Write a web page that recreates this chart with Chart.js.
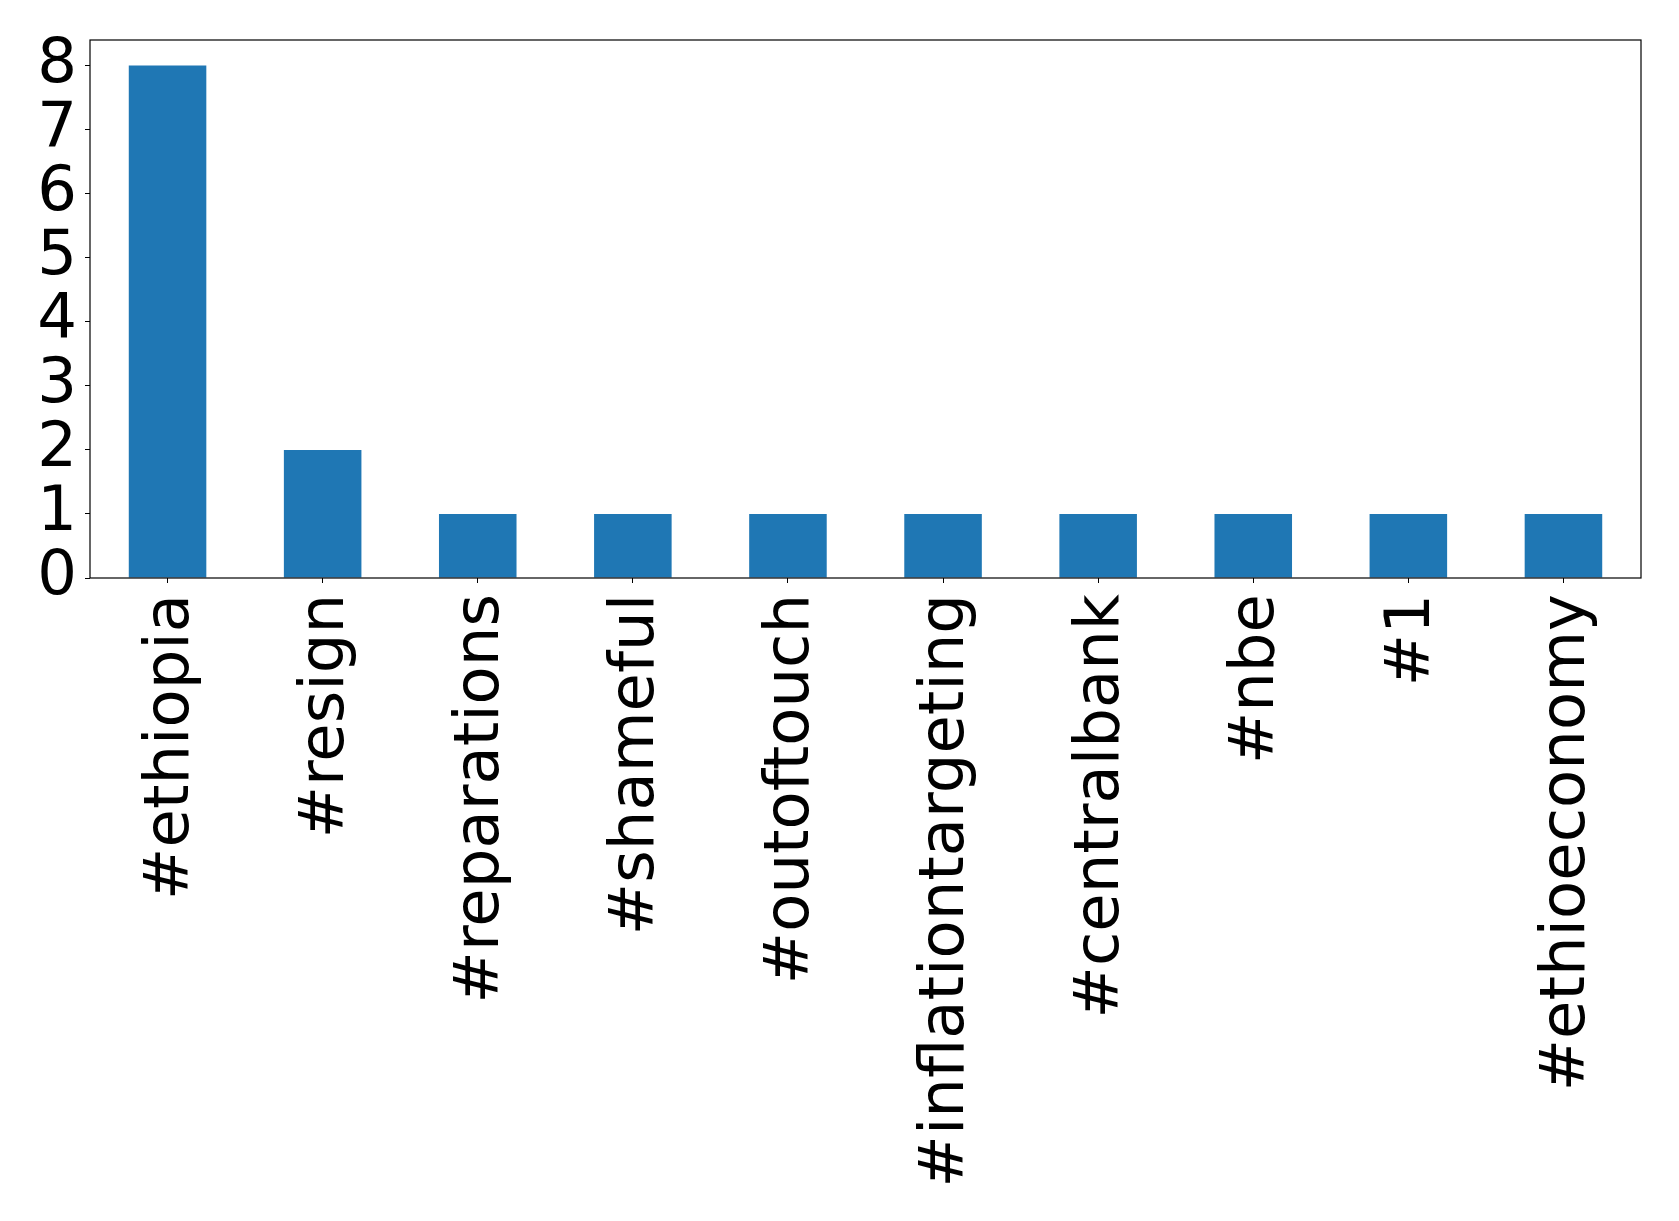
<!DOCTYPE html>
<html>
<head>
<meta charset="utf-8">
<script src="https://cdn.jsdelivr.net/npm/chart.js@4.4.0/dist/chart.umd.min.js"></script>
<style>
  html, body { margin: 0; padding: 0; background: #fff; }
  #wrap { width: 1679px; height: 1221px; }
</style>
</head>
<body>
<div id="wrap"><canvas id="grafico" width="1679" height="1221"></canvas></div>
<script>
// hashtags e contagens
const hashtags = ['#ethiopia', '#resign', '#reparations', '#shameful', '#outoftouch',
    '#inflationtargeting', '#centralbank', '#nbe', '#1', '#ethioeconomy'];
const contagens = [8, 2, 1, 1, 1, 1, 1, 1, 1, 1];
const yTicks = [0, 1, 2, 3, 4, 5, 6, 7, 8];
const yMax = 8.4;

// moldura em volta da area do grafico
const moldura = {
    id: 'moldura',
    afterDraw(chart) {
        const a = chart.chartArea;
        const ctx = chart.ctx;
        ctx.save();
        ctx.strokeStyle = '#000';
        ctx.lineWidth = 1.2;
        ctx.strokeRect(a.left, a.top, a.right - a.left, a.bottom - a.top);
        ctx.restore();
    }
};

const fonte = { family: 'DejaVu Sans', size: 62.5 };

const ctx = document.getElementById('grafico').getContext('2d');
const grafico = new Chart(ctx, {
    type: 'bar',
    data: {
        labels: hashtags,
        datasets: [{
            data: contagens,
            backgroundColor: '#1f77b4',
            borderWidth: 0,
            categoryPercentage: 1.0,
            barPercentage: 0.5
        }]
    },
    options: {
        responsive: false,
        animation: false,
        layout: { autoPadding: false, padding: { top: 40, right: 38, left: 0, bottom: 0 } },
        plugins: { legend: { display: false }, tooltip: { enabled: false } },
        scales: {
            x: {
                grid: { drawOnChartArea: false, drawTicks: true, tickLength: 5, color: '#000', offset: false },
                border: { display: false },
                ticks: {
                    color: '#000',
                    font: fonte,
                    minRotation: 90,
                    maxRotation: 90,
                    autoSkip: false,
                    padding: 11,
                    labelOffset: 4
                },
                afterFit(scale) {
                    scale.height = 1221 - 578;
                    scale.paddingLeft = 0;
                    scale.paddingRight = 0;
                }
            },
            y: {
                min: 0,
                max: yMax,
                grid: { drawOnChartArea: false, drawTicks: true, tickLength: 5, color: '#000' },
                border: { display: false },
                ticks: {
                    color: '#000',
                    font: fonte,
                    autoSkip: false,
                    padding: 8
                },
                afterBuildTicks(scale) {
                    scale.ticks = yTicks.map(v => ({ value: v }));
                },
                afterFit(scale) {
                    scale.width = 90;
                    scale.paddingTop = 0;
                    scale.paddingBottom = 0;
                }
            }
        }
    },
    plugins: [moldura]
});
</script>
</body>
</html>
